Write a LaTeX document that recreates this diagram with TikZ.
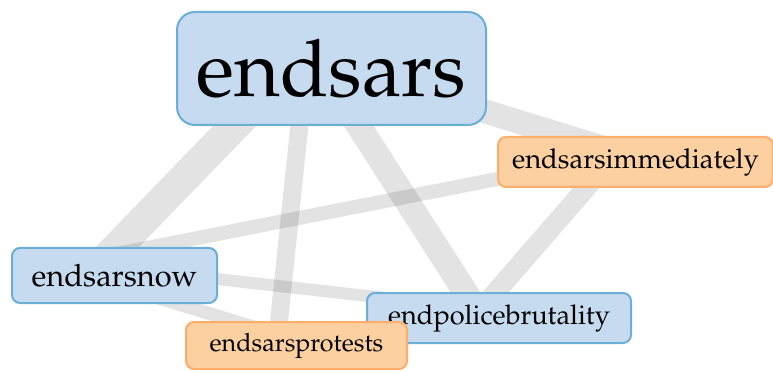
\documentclass[tikz,border=0pt]{standalone}
\usepackage[T1]{fontenc}
\usepackage{mathpazo}
\usepackage{xcolor}
\usepackage{tikz}
\usetikzlibrary{calc,backgrounds}

\definecolor{tagblue}{HTML}{C6DBEF}
\definecolor{tagblueline}{HTML}{6BAED6}
\definecolor{tagorange}{HTML}{FDD0A2}
\definecolor{tagorangeline}{HTML}{FDAE6B}

\begin{document}
\begin{tikzpicture}[x=1pt, y=-1pt,
    tag/.style={draw=tag#1line, fill=tag#1, line width=2pt, rounded corners=8pt,
                inner sep=0pt, align=center},
    link/.style={draw=black, draw opacity=0.11, line width=#1}
]
\useasboundingbox (0,0) rectangle (773,371);

%% Hashtag boxes
\node[tag=blue, rounded corners=18pt, minimum width=309pt, minimum height=113pt,
      font=\fontsize{79}{80}\selectfont] (endsars) at (331.5,68.5) {endsars};
\node[tag=orange, minimum width=275pt, minimum height=50pt,
      font=\fontsize{27.4}{28}\selectfont] (immediately) at (635.5,162) {endsarsimmediately};
\node[tag=blue, minimum width=205pt, minimum height=55pt,
      font=\fontsize{30.8}{31}\selectfont] (now) at (114.5,275.5) {endsarsnow};
\node[tag=blue, minimum width=264pt, minimum height=50pt,
      font=\fontsize{27.2}{28}\selectfont] (brutality) at (499,318) {endpolicebrutality};
\node[tag=orange, minimum width=221pt, minimum height=47pt,
      font=\fontsize{25.1}{26}\selectfont] (protests) at (296.5,345.5) {endsarsprotests};

%% Co-occurrence links (behind the boxes)
\begin{scope}[on background layer]
\draw[link=31pt] ($(endsars)+(-81.5,41.5)$) -- ($(now)+(-14.5,-10.5)$);
\draw[link=18pt] ($(endsars)+(-30.5,41.5)$) -- ($(protests)+(-20,0)$);
\draw[link=25pt] ($(endsars)+(17,41.5)$) -- ($(brutality)+(-17,0)$);
\draw[link=24pt] ($(endsars)+(138.5,38.3)$) -- ($(immediately)+(-15.5,-9)$);
\draw[link=14pt] ($(immediately)+(-115.5,12.5)$) -- ($(now)+(-14.5,-18.3)$);
\draw[link=20pt] ($(immediately)+(-38.1,13)$) -- ($(brutality)+(-18.8,-8)$);
\draw[link=12pt] ($(now)+(85.5,1.6)$) -- ($(brutality)+(-79,-16.1)$);
\draw[link=13pt] ($(now)+(35.5,19.9)$) -- ($(protests)+(-26.5,-13.5)$);
\end{scope}

\end{tikzpicture}
\end{document}
